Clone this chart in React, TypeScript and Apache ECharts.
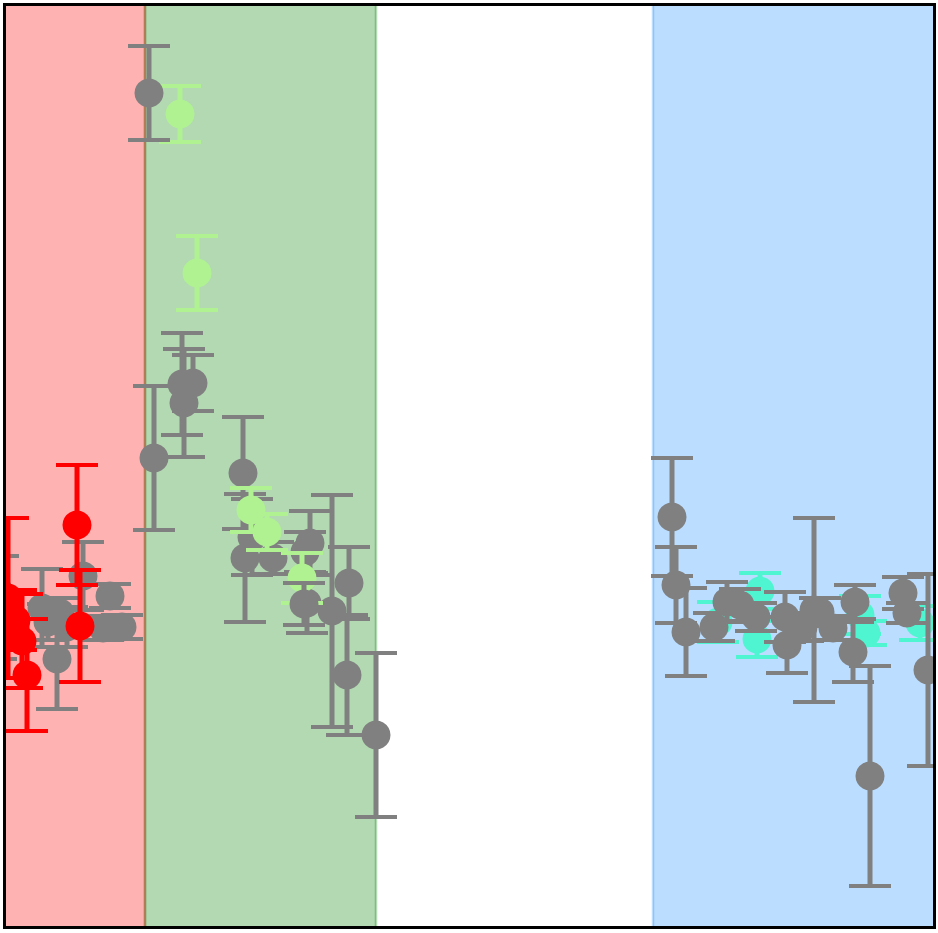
import React, { useEffect, useRef } from "react";
import * as echarts from "echarts";

// Gray group (drawn beneath the light green points): x, y, half error
const grayX = [77, 104, 36, 51, 54, 61, 42, 97, 116, -10, -8, 148, 176, 178, 187, 237, 239, 246, 267, 304, 299, 301, 326, 343, 341, 370, 666, 670, 680, 708, 721, 734, 750, 779, 781, 808, 797, 814, 827, 849, 847, 864, 897, 901, 922];
const grayY = [350, 330, 318, 267, 313, 299, 304, 298, 299, 281, 336, 468, 542, 523, 543, 453, 368, 389, 368, 383, 374, 323, 315, 343, 251, 191, 409, 341, 294, 299, 324, 321, 309, 309, 281, 316, 299, 314, 298, 324, 274, 150, 333, 313, 256];
const grayErr = [34, 12, 39, 50, 15, 20, 18, 12, 12, 14, 34, 72, 51, 54, 28, 56, 64, 38, 16, 32, 20, 30, 116, 36, 60, 82, 59, 38, 44, 14, 20, 16, 14, 25, 28, 92, 14, 14, 12, 17, 30, 110, 16, 10, 96];

// Gray points that sit on top of the light green points
const grayTopX = [143, 298];
const grayTopY = [833, 322];
const grayTopErr = [47, 21];

// Light green group
const greenX = [174, 191, 245, 261, 296];
const greenY = [812, 653, 416, 394, 348];
const greenErr = [28, 37, 22, 18, 25];

// Turquoise group
const turqX = [754, 751, 712, 854, 860, 914];
const turqY = [335, 287, 304, 311, 293, 303];
const turqErr = [18, 18, 20, 19, 12, 17];

// Red group
const redX = [71, 74, 2, 10, 16, 21];
const redY = [401, 300, 328, 306, 285, 251];
const redErr = [60, 56, 80, 30, 47, 56];

// Shaded regions (x start, x end)
const bandStart = [-30, 139, 647];
const bandEnd = [139, 370, 960];
const bandFill = ["rgba(255,0,0,0.3)", "rgba(0,128,0,0.3)", "rgba(30,144,255,0.3)"];

const X_MIN = 0, X_MAX = 927, Y_MIN = 0, Y_MAX = 920;

function errSeries(name: string, xs: number[], ys: number[], es: number[], color: string) {
  return {
    type: "custom",
    name,
    clip: true,
    z: 3,
    data: xs.map((x, i) => [x, ys[i], es[i]]),
    renderItem: (params: any, api: any) => {
      const x = api.value(0), y = api.value(1), e = api.value(2);
      const c = api.coord([x, y]);
      const t = api.coord([x, y + e]);
      const b = api.coord([x, y - e]);
      const cap = 21;
      return {
        type: "group",
        children: [
          { type: "line", shape: { x1: c[0], y1: t[1], x2: c[0], y2: b[1] }, style: { stroke: color, lineWidth: 5 } },
          { type: "line", shape: { x1: c[0] - cap, y1: t[1], x2: c[0] + cap, y2: t[1] }, style: { stroke: color, lineWidth: 4 } },
          { type: "line", shape: { x1: c[0] - cap, y1: b[1], x2: c[0] + cap, y2: b[1] }, style: { stroke: color, lineWidth: 4 } },
          { type: "circle", shape: { cx: c[0], cy: c[1], r: 14.5 }, style: { fill: color } },
        ],
      };
    },
  };
}

export default function App() {
  const ref = useRef<HTMLDivElement>(null);
  useEffect(() => {
    if (!ref.current) return;
    const chart = echarts.init(ref.current, null, { renderer: "svg" });
    chart.setOption({
      animation: false,
      backgroundColor: "#ffffff",
      grid: { left: 6, top: 6, width: 927, height: 920, show: false },
      xAxis: { type: "value", min: X_MIN, max: X_MAX, show: false, splitLine: { show: false } },
      yAxis: { type: "value", min: Y_MIN, max: Y_MAX, show: false, splitLine: { show: false } },
      series: [
        {
          type: "custom",
          name: "bands",
          clip: true,
          z: 1,
          data: bandStart.map((s, i) => [s, bandEnd[i], i]),
          renderItem: (params: any, api: any) => {
            const i = api.value(2);
            const p0 = api.coord([api.value(0), Y_MAX]);
            const p1 = api.coord([api.value(1), Y_MIN]);
            return {
              type: "rect",
              shape: { x: p0[0], y: p0[1] - 6, width: p1[0] - p0[0], height: p1[1] - p0[1] + 12 },
              style: { fill: bandFill[i], stroke: bandFill[i], lineWidth: 2.5 },
            };
          },
        },
        errSeries("turquoise", turqX, turqY, turqErr, "#4ef5d0"),
        errSeries("gray", grayX, grayY, grayErr, "#808080"),
        errSeries("light green", greenX, greenY, greenErr, "#b0f292"),
        errSeries("gray top", grayTopX, grayTopY, grayTopErr, "#808080"),
        errSeries("red", redX, redY, redErr, "#ff0000"),
      ],
      graphic: [
        {
          type: "rect",
          z: 100,
          shape: { x: 4.5, y: 4.5, width: 930, height: 923 },
          style: { fill: "none", stroke: "#000000", lineWidth: 3 },
        },
      ],
    });
    return () => chart.dispose();
  }, []);
  return (
    <div
      ref={ref}
      style={{ position: "absolute", left: 0, top: 0, width: 938, height: 933, background: "#fff" }}
    />
  );
}
